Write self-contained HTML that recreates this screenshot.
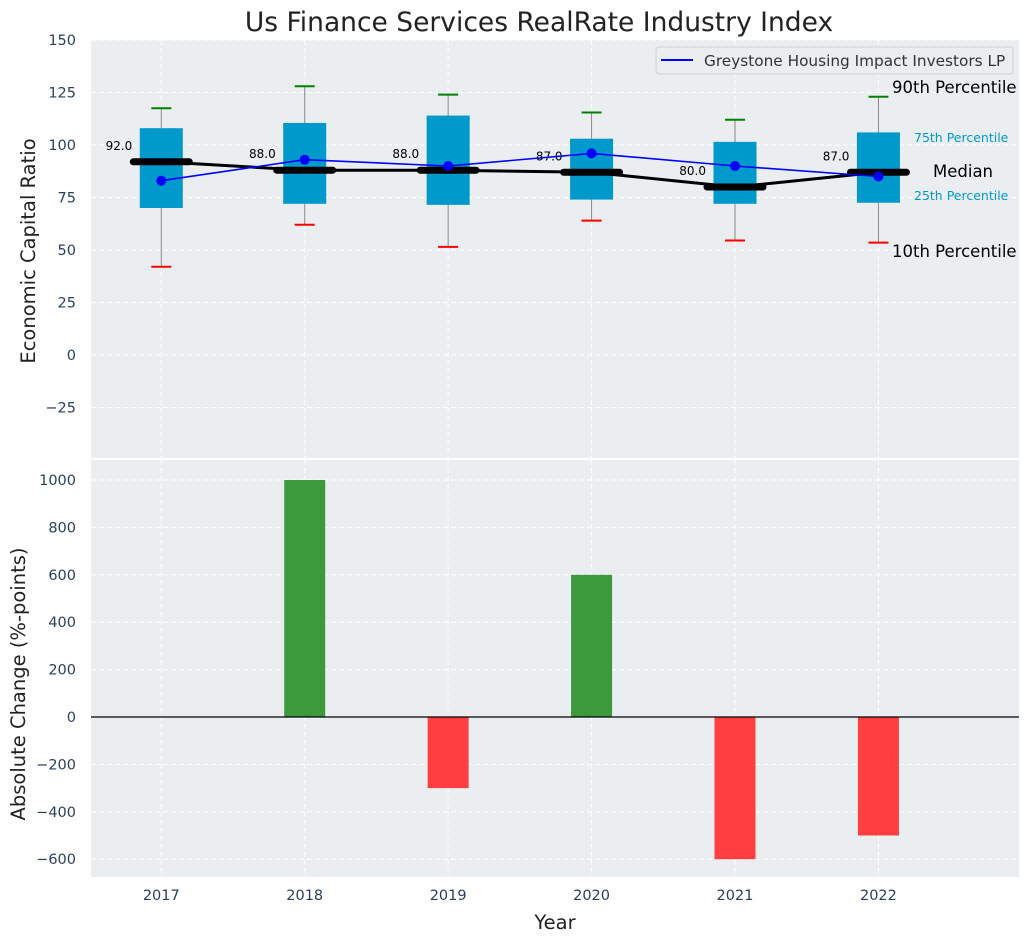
<!DOCTYPE html>
<html><head><meta charset="utf-8"><style>
body{margin:0;background:#fff;font-family:"Liberation Sans","DejaVu Sans",sans-serif}
svg text{font-family:"DejaVu Sans","Liberation Sans",sans-serif}
</style></head><body>
<svg id="c" width="1029" height="942" xmlns="http://www.w3.org/2000/svg"></svg>
<script>
const years=[2017,2018,2019,2020,2021,2022];
const q1=[70,72,71.5,74,72,72.5];
const q3=[108,110.5,114,103,101.5,106];
const p10=[42,62,51.5,64,54.5,53.5];
const p90=[117.5,128,124,115.5,112,123];
const medians=[92,88,88,87,80,87];
const company=[83,93,90,96,90,85];
const changes=[0,1000,-300,600,-600,-500];
const topTicks=[150,125,100,75,50,25,0,-25];
const botTicks=[1000,800,600,400,200,0,-200,-400,-600];

const NS="http://www.w3.org/2000/svg";
const svg=document.getElementById('c');
function el(t,a,p){const e=document.createElementNS(NS,t);for(const k in a)e.setAttribute(k,a[k]);(p||svg).appendChild(e);return e;}
const L=91,R=1019;
const X=v=>L+(v-2016.51)*(R-L)/(2022.98-2016.51);
const Y1=v=>355-v*2.1;
const Y2=v=>717-v*0.237;

let t=el('text',{x:539,y:31,'font-size':26.5,'text-anchor':'middle',fill:'#222'});t.textContent='Us Finance Services RealRate Industry Index';


let p=el('rect',{x:L,y:40,width:R-L,height:418,fill:'#eaeef0'});

p=el('rect',{x:L,y:460,width:R-L,height:417,fill:'#eaeef0'});


years.forEach(y=>{
 el('line',{x1:X(y),x2:X(y),y1:40,y2:458,stroke:'#fff','stroke-dasharray':'5,3'});
 el('line',{x1:X(y),x2:X(y),y1:460,y2:877,stroke:'#fff','stroke-dasharray':'5,3'});
 const tx=el('text',{x:X(y),y:900,'font-size':14.5,'text-anchor':'middle',fill:'#2a3f5f'});tx.textContent=y;
 
});
topTicks.forEach(v=>{
 el('line',{x1:L,x2:R,y1:Y1(v),y2:Y1(v),stroke:'#fff','stroke-dasharray':'5,3'});
 const tx=el('text',{x:76,y:Y1(v)+5,'font-size':14.5,'text-anchor':'end',fill:'#2a3f5f'});tx.textContent=v<0?'\u2212'+(-v):v;
 
});
botTicks.forEach(v=>{
 el('line',{x1:L,x2:R,y1:Y2(v),y2:Y2(v),stroke:'#fff','stroke-dasharray':'5,3'});
 const tx=el('text',{x:76,y:Y2(v)+5,'font-size':14.5,'text-anchor':'end',fill:'#2a3f5f'});tx.textContent=v<0?'\u2212'+(-v):v;
 
});

const bw=43/143.4;
years.forEach((y,i)=>{
 const x=X(y);
 let w=el('line',{x1:x,x2:x,y1:Y1(p90[i]),y2:Y1(p10[i]),stroke:'#888','stroke-width':1});
 
 let b=el('rect',{x:X(y-bw/2),y:Y1(q3[i]),width:X(y+bw/2)-X(y-bw/2),height:Y1(q1[i])-Y1(q3[i]),fill:'#0099cc'});
 
 let c=el('line',{x1:x-10,x2:x+10,y1:Y1(p90[i]),y2:Y1(p90[i]),stroke:'green','stroke-width':2});
 
 c=el('line',{x1:x-10,x2:x+10,y1:Y1(p10[i]),y2:Y1(p10[i]),stroke:'red','stroke-width':2});
 
});
let ml=el('polyline',{points:years.map((y,i)=>X(y)+','+Y1(medians[i])).join(' '),fill:'none',stroke:'#000','stroke-width':3});

years.forEach((y,i)=>{
 const x=X(y);
 let m=el('line',{x1:x-28,x2:x+28,y1:Y1(medians[i]),y2:Y1(medians[i]),stroke:'#000','stroke-width':7,'stroke-linecap':'round'});
 
 let tx=el('text',{x:x-29,y:Y1(medians[i])-12,'font-size':12,'text-anchor':'end',fill:'#000'});tx.textContent=medians[i].toFixed(1);
 
});
let cl=el('polyline',{points:years.map((y,i)=>X(y)+','+Y1(company[i])).join(' '),fill:'none',stroke:'#0000ff','stroke-width':1.6});

years.forEach((y,i)=>{
 let d=el('circle',{cx:X(y),cy:Y1(company[i]),r:5,fill:'#0000ff'});
 
});
[['90th Percentile',892,93,16.5,'#000'],['75th Percentile',914,142,12.5,'#0099cc'],['Median',933,177,16.5,'#000'],['25th Percentile',914,200,12.5,'#0099cc'],['10th Percentile',892,257,16.5,'#000']].forEach(a=>{
 const tx=el('text',{x:a[1],y:a[2],'font-size':a[3],fill:a[4]});tx.textContent=a[0];
 
});
const lg=el('g',{});
el('rect',{x:656,y:47,width:357,height:27,rx:3,fill:'#eaeef0',stroke:'#d0d0d0'},lg);
el('line',{x1:661,x2:693,y1:60,y2:60,stroke:'#0000ff','stroke-width':2},lg);
t=el('text',{x:704,y:66,'font-size':15.3,fill:'#333'},lg);t.textContent='Greystone Housing Impact Investors LP';

const bbw=41/143.4;
years.forEach((y,i)=>{
 const v=changes[i];
 const b=el('rect',{x:X(y-bbw/2),y:Math.min(Y2(v),Y2(0)),width:X(y+bbw/2)-X(y-bbw/2),height:Math.abs(Y2(v)-Y2(0)),fill:v>=0?'#3c9a3c':'#ff3f3f'});
 
});
el('line',{x1:L,x2:R,y1:Y2(0),y2:Y2(0),stroke:'#000','stroke-width':1.2});

t=el('text',{x:0,y:0,'font-size':19.5,'text-anchor':'middle',fill:'#222',transform:'translate(35,251) rotate(-90)'});t.textContent='Economic Capital Ratio';

t=el('text',{x:0,y:0,'font-size':19.5,'text-anchor':'middle',fill:'#222',transform:'translate(25,684) rotate(-90)'});t.textContent='Absolute Change (%-points)';

t=el('text',{x:555,y:929,'font-size':19.5,'text-anchor':'middle',fill:'#222'});t.textContent='Year';

</script>
</body></html>
